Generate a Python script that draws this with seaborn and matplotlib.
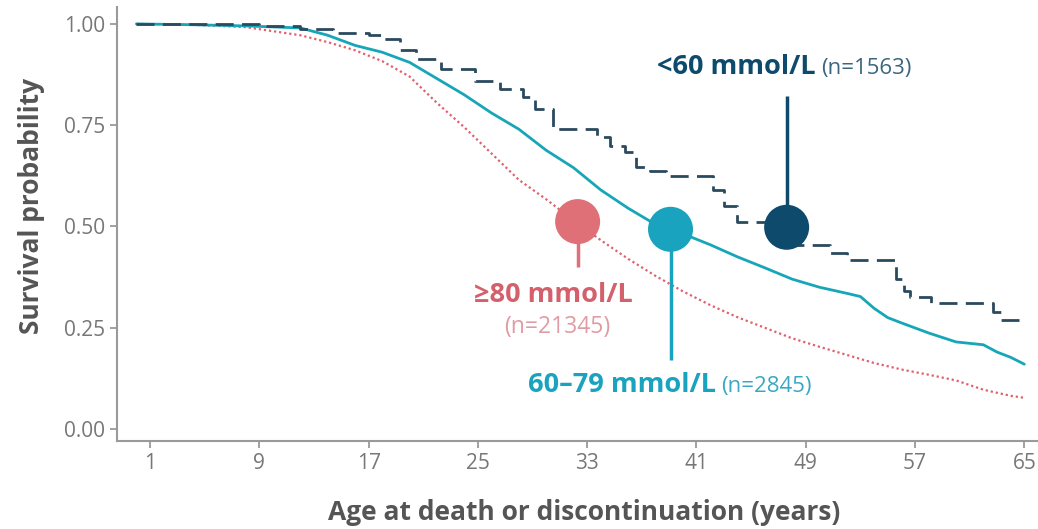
import numpy as np
import pandas as pd
import matplotlib.pyplot as plt
import seaborn as sns

# Kaplan-Meier style survival
ages_lo = [0, 9, 12, 14.4, 17, 18, 19.3, 20.5, 22.3, 24.8, 26.6, 28.3, 29.2, 30.5,
           33.7, 34.7, 35.8, 36.6, 37.6, 38.8, 42.2, 43.0, 44.0, 48.0, 50.8, 52.0,
           55.6, 56.2, 56.6, 58.2, 62.7, 63.3, 64.6]
surv_lo = [1.0, 0.995, 0.988, 0.978, 0.972, 0.963, 0.935, 0.913, 0.889, 0.86, 0.84, 0.82,
           0.79, 0.74, 0.72, 0.698, 0.683, 0.648, 0.636, 0.624, 0.59, 0.55, 0.51, 0.455,
           0.435, 0.418, 0.37, 0.34, 0.327, 0.312, 0.29, 0.27, 0.27]

ages_mid = [0, 4, 8, 12, 14, 16, 18, 20, 22, 24, 26, 28, 30, 32, 34, 36, 38, 40, 42,
            44, 46, 48, 50, 52, 53, 54, 55, 56, 58, 60, 62, 63, 64, 65]
surv_mid = [1.0, 0.998, 0.995, 0.99, 0.972, 0.947, 0.93, 0.905, 0.865, 0.825, 0.78,
            0.74, 0.688, 0.645, 0.59, 0.545, 0.505, 0.482, 0.455, 0.425, 0.398, 0.37,
            0.35, 0.335, 0.327, 0.298, 0.275, 0.262, 0.237, 0.215, 0.208, 0.19, 0.177, 0.16]

ages_hi = [0, 4, 8, 12, 14, 16, 18, 20, 22, 24, 26, 28, 30, 32, 34, 36, 38, 40, 42,
           44, 46, 48, 50, 52, 54, 56, 58, 60, 62, 64, 65]
surv_hi = [1.0, 0.998, 0.992, 0.972, 0.955, 0.935, 0.908, 0.87, 0.805, 0.745, 0.68, 0.615,
           0.567, 0.515, 0.466, 0.42, 0.378, 0.34, 0.306, 0.276, 0.25, 0.224, 0.203,
           0.183, 0.163, 0.147, 0.134, 0.12, 0.097, 0.082, 0.077]

groups = ['<60 mmol/L', '60–79 mmol/L', '≥80 mmol/L']
n_labels = ['(n=1563)', '(n=2845)', '(n=21345)']
marker_age = [47.6, 39.1, 32.3]
marker_surv = [0.498, 0.493, 0.512]
stem_end = [0.822, 0.171, 0.399]

x_ticks = [1, 9, 17, 25, 33, 41, 49, 57, 65]
y_ticks = [0.0, 0.25, 0.50, 0.75, 1.00]

NAVY = '#0d4a6b'
NAVY_LINE = '#2a4a5e'
TEAL = '#1aa3bf'
TEAL_LINE = '#17a6b8'
RED = '#e07077'
RED_LINE = '#e0606c'

sns.set_theme(style="white")
plt.rcParams['font.family'] = ['Open Sans', 'DejaVu Sans']

df_lo = pd.DataFrame({'age': ages_lo, 'surv': surv_lo})
df_mid = pd.DataFrame({'age': ages_mid, 'surv': surv_mid})
df_hi = pd.DataFrame({'age': ages_hi, 'surv': surv_hi})

fig = plt.figure(figsize=(10.38, 5.29), dpi=100)
ax = fig.add_axes([0.1127, 0.166, 0.8873, 0.821])

sns.lineplot(data=df_hi, x='age', y='surv', ax=ax, color=RED_LINE, lw=1.6,
             linestyle=(0, (1, 1.3)), zorder=2)
sns.lineplot(data=df_mid, x='age', y='surv', ax=ax, color=TEAL_LINE, lw=2.0, zorder=3)
sns.lineplot(data=df_lo, x='age', y='surv', ax=ax, color=NAVY_LINE, lw=2.0,
             linestyle=(0, (6.5, 3)), drawstyle='steps-post', zorder=4)

# lollipop markers
ball_colors = [NAVY, TEAL, RED]
for i in range(3):
    ax.plot([marker_age[i], marker_age[i]], [marker_surv[i], stem_end[i]],
            color=ball_colors[i], lw=2.5, zorder=5, solid_capstyle='butt')
df_balls = pd.DataFrame({'age': marker_age, 'surv': marker_surv, 'grp': groups})
sns.scatterplot(data=df_balls, x='age', y='surv', hue='grp', palette=ball_colors,
                s=1050, linewidth=0, legend=False, ax=ax, zorder=6)

# labels
ax.text(49.75, 0.894, '<60 mmol/L', color=NAVY, fontsize=19.5, fontweight='bold',
        ha='right', va='center')
ax.text(50.1, 0.890, '(n=1563)', color='#3b6680', fontsize=16, ha='left', va='center')
ax.text(42.4, 0.109, '60–79 mmol/L', color=TEAL, fontsize=19.5, fontweight='bold',
        ha='right', va='center')
ax.text(42.8, 0.105, '(n=2845)', color='#3aa8c2', fontsize=16, ha='left', va='center')
ax.text(30.5, 0.332, '≥80 mmol/L', color='#d4606b', fontsize=19.5, fontweight='bold',
        ha='center', va='center')
ax.text(30.8, 0.252, '(n=21345)', color='#df9ca2', fontsize=16.5, ha='center', va='center')

ax.set_xlim(-1.42, 66.0)
ax.set_ylim(-0.03, 1.042)
ax.set_xticks(x_ticks)
ax.set_yticks(y_ticks)
ax.set_yticklabels([f'{v:.2f}' for v in y_ticks])
ax.tick_params(axis='both', colors='#9a9a9a', labelcolor='#777777', labelsize=15,
               length=5, width=1.3, direction='out', left=True, bottom=True)

for s in ['top', 'right']:
    ax.spines[s].set_visible(False)
for s in ['left', 'bottom']:
    ax.spines[s].set_color('#9a9a9a')
    ax.spines[s].set_linewidth(1.5)

ax.set_xlabel('Age at death or discontinuation (years)', fontsize=19,
              fontweight='bold', color='#555555')
ax.set_ylabel('Survival probability', fontsize=19, fontweight='bold', color='#555555')
ax.xaxis.set_label_coords(0.507, -0.134)
ax.yaxis.set_label_coords(-0.078, 0.541)

fig.savefig('out.png', dpi=100)
